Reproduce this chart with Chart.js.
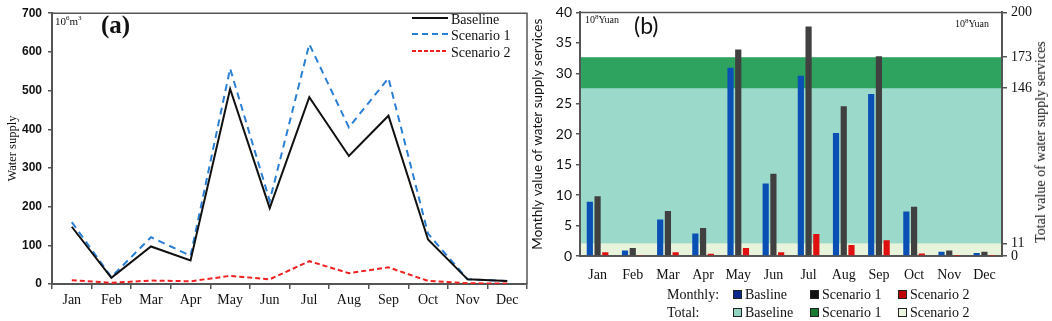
<!DOCTYPE html>
<html>
<head>
<meta charset="utf-8">
<script src="https://cdn.jsdelivr.net/npm/chart.js@4"></script>
<style>
body { margin: 0; background: #fff; }
#wrap { position: relative; width: 1052px; height: 321px; overflow: hidden; font-family: 'Liberation Serif', serif; color: #111; }
.box { position: absolute; top: 0; height: 321px; }
.txt { position: absolute; white-space: nowrap; line-height: 1; }
.sq { display: inline-block; width: 9px; height: 9px; margin-right: 3px; vertical-align: 0px; box-sizing: border-box; border: 1px solid #222; }
</style>
</head>
<body>
<div id="wrap">
  <div class="box" style="left:0;width:530px"><canvas id="chartA"></canvas></div>
  <div class="box" style="left:530px;width:522px"><canvas id="chartB"></canvas></div>

  <div class="txt" style="left:55px;top:15px;font-size:11px">10<sup style="font-size:7px">6</sup>m<sup style="font-size:7px">3</sup></div>
  <div class="txt" style="left:101px;top:12px;font-size:25px;font-weight:bold">(a)</div>

  <div class="txt" style="left:412px;top:13px;font-size:14px"><svg width="36" height="8" style="vertical-align:2px;margin-right:3px"><line x1="0" y1="4" x2="36" y2="4" stroke="#111" stroke-width="2"/></svg>Baseline</div>
  <div class="txt" style="left:412px;top:29px;font-size:14px"><svg width="36" height="8" style="vertical-align:2px;margin-right:3px"><line x1="0" y1="4" x2="36" y2="4" stroke="#2a7fd4" stroke-width="2" stroke-dasharray="6,4"/></svg>Scenario 1</div>
  <div class="txt" style="left:412px;top:46px;font-size:14px"><svg width="36" height="8" style="vertical-align:2px;margin-right:3px"><line x1="0" y1="4" x2="36" y2="4" stroke="#f02020" stroke-width="2" stroke-dasharray="4,2"/></svg>Scenario 2</div>

  <div class="txt" style="left:585px;top:14px;font-size:10px">10<sup style="font-size:7px">8</sup>Yuan</div>
  <div class="txt" style="left:634px;top:14px;font-size:23px;font-family:Lato,sans-serif">(b)</div>
  <div class="txt" style="left:955px;top:18px;font-size:10px">10<sup style="font-size:7px">8</sup>Yuan</div>
  <div class="txt" style="left:1041px;top:142px;font-size:14px;transform:translate(-50%,-50%) rotate(-90deg)">Total value of water supply services</div>

  <div class="txt" style="left:667px;top:288px;font-size:14px">Monthly:</div>
  <div class="txt" style="left:733px;top:288px;font-size:14px"><span class="sq" style="background:#0b2a8a"></span>Basline</div>
  <div class="txt" style="left:810px;top:288px;font-size:14px"><span class="sq" style="background:#111"></span>Scenario 1</div>
  <div class="txt" style="left:898px;top:288px;font-size:14px"><span class="sq" style="background:#c00000"></span>Scenario 2</div>
  <div class="txt" style="left:667px;top:306px;font-size:14px">Total:</div>
  <div class="txt" style="left:733px;top:306px;font-size:14px"><span class="sq" style="background:#8fd3c0"></span>Baseline</div>
  <div class="txt" style="left:810px;top:306px;font-size:14px"><span class="sq" style="background:#1a7a30"></span>Scenario 1</div>
  <div class="txt" style="left:898px;top:306px;font-size:14px"><span class="sq" style="background:#eaf5e0"></span>Scenario 2</div>
</div>

<script>
const months = ['Jan', 'Feb', 'Mar', 'Apr', 'May', 'Jun', 'Jul', 'Aug', 'Sep', 'Oct', 'Nov', 'Dec'];

// (a) water supply, 10^6 m3
const supplyBaseline = [148, 16, 97, 61, 504, 196, 483, 331, 435, 115, 12, 8];
const supplyScenario1 = [160, 18, 121, 73, 557, 215, 620, 405, 532, 130, 12, 8];
const supplyScenario2 = [10, 3, 9, 7, 21, 12, 59, 28, 43, 8, 2, 1];

// (b) monthly value, 10^8 Yuan
const valueBaseline = [8.9, 0.9, 6.0, 3.7, 30.9, 11.9, 29.6, 20.2, 26.6, 7.3, 0.7, 0.5];
const valueScenario1 = [9.8, 1.3, 7.4, 4.6, 33.9, 13.5, 37.7, 24.6, 32.8, 8.1, 0.9, 0.7];
const valueScenario2 = [0.6, 0.15, 0.6, 0.35, 1.3, 0.6, 3.6, 1.8, 2.6, 0.4, 0.05, 0.05];

// (b) total value bands (right axis)
const totalNames = ['Baseline', 'Scenario 1', 'Scenario 2'];
const totalValues = [146, 173, 11];
const totalColors = ['#9bd9ca', '#2ea35f', '#e8f3dc'];
const totalTicks = [0, 11, 146, 173];
const totalAxisMax = 212;

const axisColor = '#555';

const frame = {
    id: 'frame',
    afterDraw(chart, args, opts) {
        const { ctx, chartArea } = chart;
        ctx.save();
        ctx.strokeStyle = axisColor;
        ctx.lineWidth = 1.5;
        ctx.beginPath();
        ctx.moveTo(chartArea.left, chartArea.top);
        ctx.lineTo(chartArea.right, chartArea.top);
        if (opts.right) ctx.lineTo(chartArea.right, chartArea.bottom);
        ctx.stroke();
        ctx.restore();
    }
};

const totalBands = {
    id: 'totalBands',
    beforeDraw(chart) {
        const { ctx, chartArea } = chart;
        const y2 = chart.scales.y2;
        const base = y2.getPixelForValue(0);
        // biggest first so the smaller totals sit on top
        const order = totalValues.map((v, i) => i).sort((a, b) => totalValues[b] - totalValues[a]);
        ctx.save();
        order.forEach(i => {
            const top = y2.getPixelForValue(totalValues[i]);
            ctx.fillStyle = totalColors[i];
            ctx.fillRect(chartArea.left, top, chartArea.right - chartArea.left, base - top);
        });
        ctx.restore();
    }
};

new Chart(document.getElementById('chartA'), {
    type: 'line',
    data: {
        labels: months,
        datasets: [
            { label: 'Baseline', data: supplyBaseline, borderColor: '#111', borderWidth: 2, pointRadius: 0 },
            { label: 'Scenario 1', data: supplyScenario1, borderColor: '#2a7fd4', borderWidth: 2, borderDash: [7, 5], pointRadius: 0 },
            { label: 'Scenario 2', data: supplyScenario2, borderColor: '#f02020', borderWidth: 2, borderDash: [5, 3], pointRadius: 0 }
        ]
    },
    options: {
        animation: false,
        responsive: true,
        maintainAspectRatio: false,
        layout: { padding: { top: 7, right: 3, left: 0, bottom: 0 } },
        plugins: { legend: { display: false }, tooltip: { enabled: false }, frame: { right: true } },
        scales: {
            x: {
                offset: true,
                grid: { display: true, drawOnChartArea: false, offset: true, tickLength: 5, color: axisColor, lineWidth: 1.5 },
                border: { color: axisColor, width: 2 },
                ticks: { color: '#111', padding: 3, font: { family: 'Liberation Serif', size: 14 } },
                afterFit(s) { s.height = 37; }
            },
            y: {
                min: 0,
                max: 700,
                grid: { display: true, drawOnChartArea: false, tickLength: 4, color: axisColor, lineWidth: 1.5 },
                border: { color: axisColor, width: 2 },
                ticks: { stepSize: 100, color: '#111', padding: 6, font: { family: 'Liberation Sans', size: 12, weight: 'bold' } },
                title: { display: true, text: 'Water supply', color: '#111', padding: { top: 5, bottom: 0 }, font: { family: 'Liberation Serif', size: 12.5 } },
                afterFit(s) { s.width = 52; }
            }
        }
    },
    plugins: [frame]
});

new Chart(document.getElementById('chartB'), {
    type: 'bar',
    data: {
        labels: months,
        datasets: [
            { label: 'Baseline', data: valueBaseline, backgroundColor: '#0a50b4' },
            { label: 'Scenario 1', data: valueScenario1, backgroundColor: '#404040' },
            { label: 'Scenario 2', data: valueScenario2, backgroundColor: '#e01010' }
        ]
    },
    options: {
        animation: false,
        responsive: true,
        maintainAspectRatio: false,
        layout: { padding: { top: 12, right: 0, left: 0, bottom: 0 } },
        datasets: { bar: { categoryPercentage: 0.66, barPercentage: 0.8 } },
        plugins: { legend: { display: false }, tooltip: { enabled: false }, frame: { right: false } },
        scales: {
            x: {
                grid: { display: false },
                border: { color: axisColor, width: 2 },
                ticks: { color: '#111', padding: 3, font: { family: 'Liberation Serif', size: 14 } },
                afterFit(s) { s.height = 65; }
            },
            y: {
                min: 0,
                max: 40,
                grid: { display: true, drawOnChartArea: false, tickLength: 4, color: axisColor, lineWidth: 1.5 },
                border: { color: axisColor, width: 2 },
                ticks: { stepSize: 5, color: '#111', padding: 4, font: { family: 'Lato', size: 14 } },
                title: { display: true, text: 'Monthly value of water supply services', color: '#111', padding: { top: 0, bottom: 0 }, font: { family: 'Lato', size: 13.5 } },
                afterFit(s) { s.width = 50; }
            },
            y2: {
                position: 'right',
                min: 0,
                max: totalAxisMax,
                afterBuildTicks(s) { s.ticks = totalTicks.concat([totalAxisMax]).map(v => ({ value: v })); },
                grid: { display: true, drawOnChartArea: false, tickLength: 5, color: axisColor, lineWidth: 1.5 },
                border: { color: axisColor, width: 2 },
                ticks: {
                    color: '#111', padding: 4, font: { family: 'Liberation Serif', size: 14 },
                    callback: v => v === totalAxisMax ? '200' : v
                },
                afterFit(s) { s.width = 50; }
            }
        }
    },
    plugins: [totalBands, frame]
});
</script>
</body>
</html>
